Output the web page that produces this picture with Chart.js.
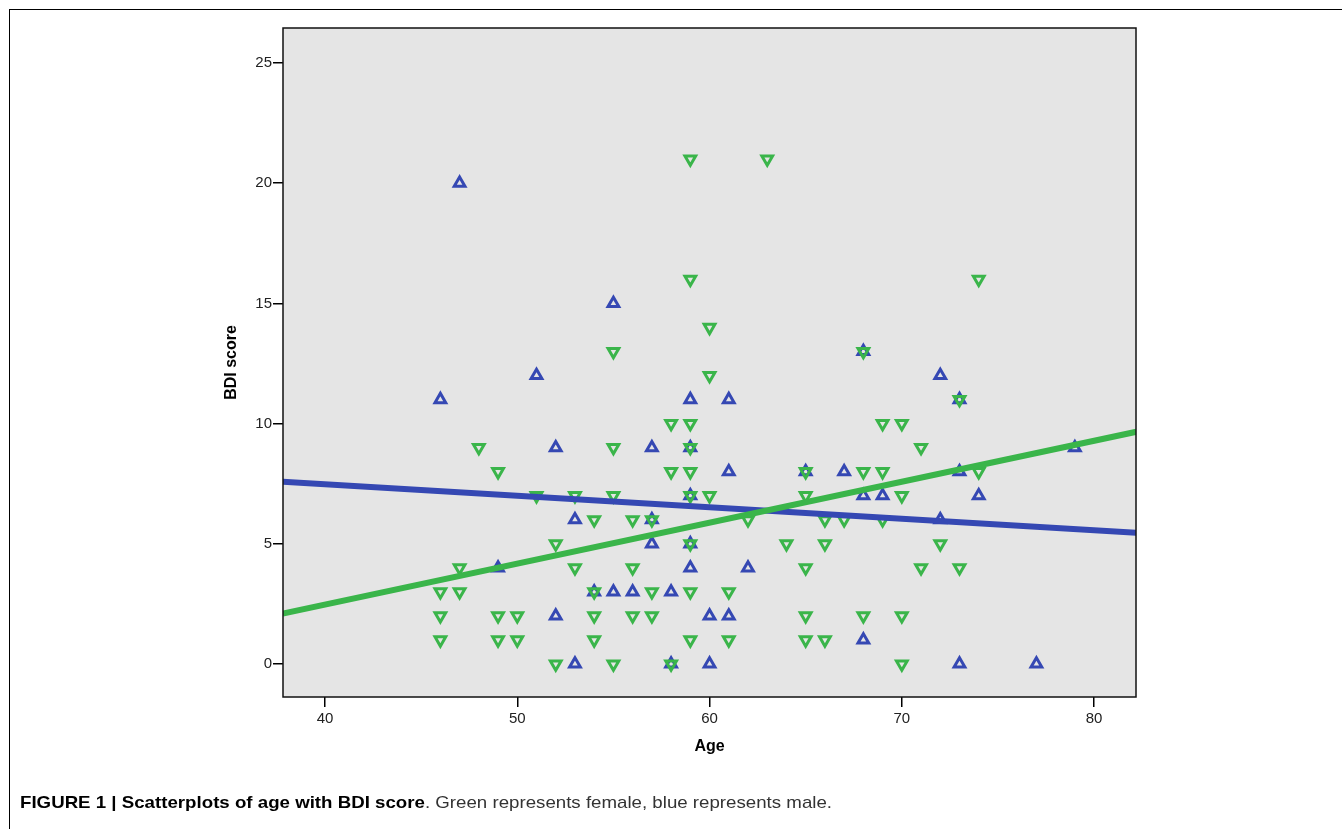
<!DOCTYPE html>
<html><head><meta charset="utf-8">
<script src="https://cdn.jsdelivr.net/npm/chart.js@4.4.1/dist/chart.umd.min.js"></script>
<style>
html,body{margin:0;padding:0;background:#fff;width:1342px;height:829px;overflow:hidden}
#frame{position:absolute;left:9px;top:9px;width:1340px;height:830px;border-top:1px solid #000;border-left:1px solid #000;}
#wrap{position:absolute;left:0;top:0;width:1342px;height:829px}
#caption{position:absolute;left:20px;top:794px;line-height:18px;font-family:"Liberation Sans Narrow","Liberation Sans",Arial,sans-serif;font-size:17px;color:#333;white-space:nowrap;transform-origin:0 50%}
#caption b{color:#000}
</style></head><body>
<div id="frame"></div>
<div id="wrap"><canvas id="c" width="1342" height="829"></canvas></div>
<div id="caption"><b>FIGURE 1 | Scatterplots of age with BDI score</b>. Green represents female, blue represents male.</div>
<script>
const xTicks = [40, 50, 60, 70, 80];
const yTicks = [0, 5, 10, 15, 20, 25];

const femaleAge = [46,46,46,47,47,48,49,49,49,50,50,51,52,52,53,53,54,54,54,54,55,55,55,55,56,56,56,57,57,57,58,58,58,59,59,59,59,59,59,59,59,59,60,60,60,61,61,62,63,64,65,65,65,65,65,66,66,66,67,68,68,68,69,69,69,70,70,70,70,71,71,72,73,73,74,74];
const femaleBDI = [3,2,1,4,3,9,8,2,1,2,1,7,5,0,7,4,6,3,2,1,13,9,7,0,6,4,2,6,3,2,10,8,0,21,16,10,9,8,7,5,3,1,14,12,7,3,1,6,21,5,8,7,4,2,1,6,5,1,6,13,8,2,10,8,6,10,7,2,0,9,4,5,11,4,16,8];

const maleAge = [46,47,49,51,52,52,53,53,54,55,55,56,57,57,57,58,58,59,59,59,59,59,60,60,61,61,61,62,65,67,68,68,68,69,72,72,73,73,73,74,77,79];
const maleBDI = [11,20,4,12,9,2,6,0,3,15,3,3,9,6,5,3,0,11,9,7,5,4,2,0,11,8,2,4,8,8,13,7,1,7,12,6,11,8,0,7,0,9];

const fitAge = [37.8, 82.2];
const femaleFit = [2.1, 9.66];
const maleFit = [7.58, 5.46];

const BLUE = '#3548b3';
const GREEN = '#3ab54a';
const FONT = '"Liberation Sans", Arial, Helvetica, sans-serif';

const pts = (xs, ys) => xs.map((x, i) => ({x: x, y: ys[i]}));

const frameAndBg = {
  id: 'frameAndBg',
  beforeDraw(chart) {
    const {ctx, chartArea: a} = chart;
    ctx.save();
    ctx.fillStyle = '#e5e5e5';
    ctx.fillRect(a.left, a.top, a.right - a.left, a.bottom - a.top);
    ctx.restore();
  },
  afterDraw(chart) {
    const {ctx, chartArea: a} = chart;
    ctx.save();
    ctx.strokeStyle = '#111';
    ctx.lineWidth = 1.5;
    ctx.strokeRect(a.left, a.top, a.right - a.left, a.bottom - a.top);
    ctx.restore();
  }
};

const PAD_LEFT = 222.4, PAD_RIGHT = 206, PAD_TOP = 28, PAD_BOTTOM = 72.9;

new Chart(document.getElementById('c'), {
  type: 'scatter',
  data: {
    datasets: [
      { type: 'line', label: 'Female fit', data: pts(fitAge, femaleFit), borderColor: GREEN, borderWidth: 6, pointRadius: 0, fill: false, order: 0 },
      { type: 'line', label: 'Male fit', data: pts(fitAge, maleFit), borderColor: BLUE, borderWidth: 6, pointRadius: 0, fill: false, order: 1 },
      { label: 'Female', data: pts(femaleAge, femaleBDI), pointStyle: 'triangle', rotation: 180, pointRadius: 6.2, pointHoverRadius: 6.2, borderWidth: 3, borderColor: GREEN, backgroundColor: 'rgba(0,0,0,0)', order: 2 },
      { label: 'Male', data: pts(maleAge, maleBDI), pointStyle: 'triangle', rotation: 0, pointRadius: 6.2, pointHoverRadius: 6.2, borderWidth: 3, borderColor: BLUE, backgroundColor: 'rgba(0,0,0,0)', order: 3 }
    ]
  },
  options: {
    responsive: false,
    animation: false,
    devicePixelRatio: 1,
    layout: { padding: { left: PAD_LEFT, right: PAD_RIGHT, top: PAD_TOP, bottom: PAD_BOTTOM } },
    plugins: { legend: { display: false }, tooltip: { enabled: false } },
    scales: {
      x: {
        type: 'linear', min: 37.815, max: 82.18,
        afterBuildTicks(s) { s.ticks = xTicks.map(v => ({value: v})); },
        afterFit(s) { s.height = (829 - PAD_BOTTOM) - 697; },
        ticks: { color: '#222', font: { family: FONT, size: 15 }, padding: 3 },
        grid: { drawOnChartArea: false, drawTicks: true, tickLength: 10, color: '#000', lineWidth: 1.5 },
        border: { display: false },
        title: { display: true, text: 'Age', color: '#000', font: { family: FONT, size: 16, weight: 'bold' }, padding: { top: 0, bottom: 0 } }
      },
      y: {
        type: 'linear', min: -1.373, max: 26.456,
        afterBuildTicks(s) { s.ticks = yTicks.map(v => ({value: v})); },
        afterFit(s) { s.width = 283 - PAD_LEFT; },
        ticks: { color: '#222', font: { family: FONT, size: 15 }, padding: 1 },
        grid: { drawOnChartArea: false, drawTicks: true, tickLength: 10, color: '#000', lineWidth: 1.5 },
        border: { display: false },
        title: { display: true, text: 'BDI score', color: '#000', font: { family: FONT, size: 16, weight: 'bold' }, padding: { top: 0, bottom: 0 } }
      }
    }
  },
  plugins: [frameAndBg]
});

// fit the caption to the reference's width (x 20 to 832)
const cap = document.getElementById('caption');
const w = cap.getBoundingClientRect().width;
if (w > 0) cap.style.transform = 'scaleX(' + (812 / w) + ')';
</script>
</body></html>
